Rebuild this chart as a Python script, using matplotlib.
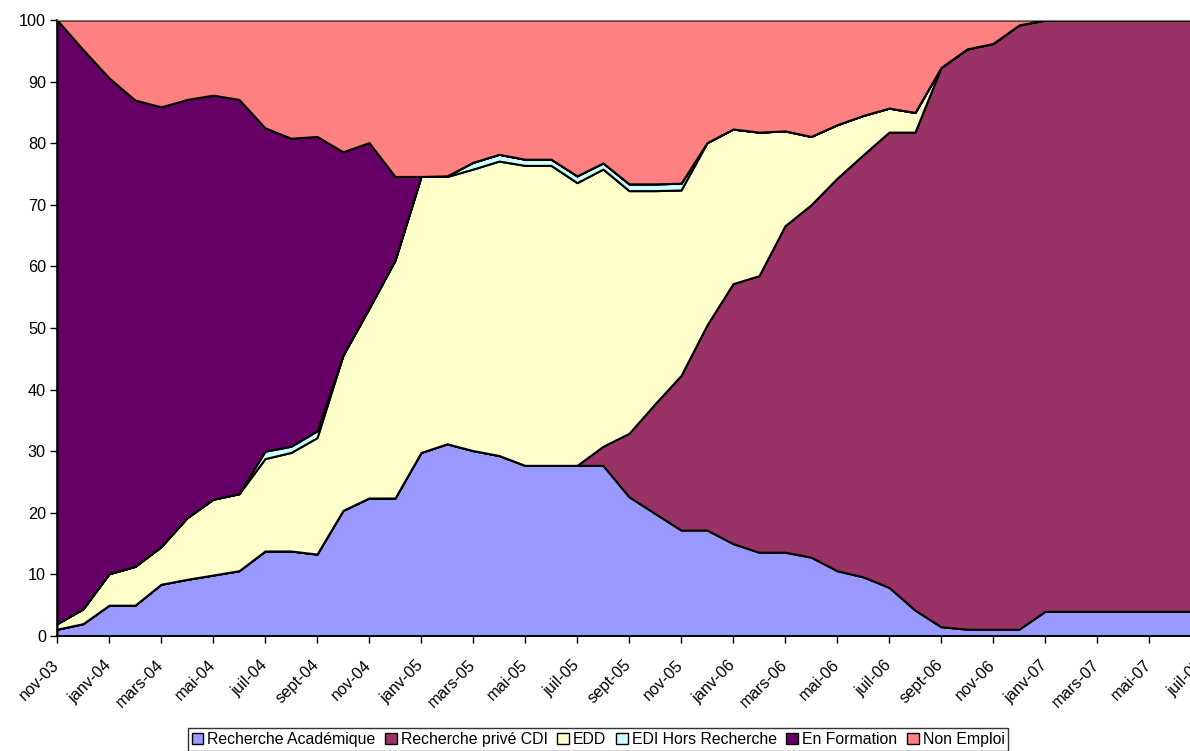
import numpy as np
import matplotlib.pyplot as plt

plt.rcParams['font.family'] = ['Liberation Sans', 'DejaVu Sans']

# months nov-03 .. juil-07 (one point per month)
mois = ['janv', 'févr', 'mars', 'avr', 'mai', 'juin',
        'juil', 'août', 'sept', 'oct', 'nov', 'déc']
dates = []
for k in range(45):
    m = (10 + k) % 12
    an = 3 + (10 + k) // 12
    dates.append('%s-%02d' % (mois[m], an))

academique = [1.1, 2.0, 5.0, 5.0, 8.4, 9.2, 9.9, 10.6, 13.8, 13.8,
              13.3, 20.4, 22.4, 22.4, 29.8, 31.2, 30.1, 29.3, 27.7, 27.7,
              27.7, 27.7, 22.6, 19.9, 17.2, 17.2, 15.0, 13.6, 13.6, 12.8,
              10.6, 9.6, 7.9, 4.2, 1.5, 1.1, 1.1, 1.1, 4.0, 4.0,
              4.0, 4.0, 4.0, 4.0, 4.0]
prive_cdi = [0, 0, 0, 0, 0, 0, 0, 0, 0, 0,
             0, 0, 0, 0, 0, 0, 0, 0, 0, 0,
             0, 3.1, 10.3, 17.8, 25.1, 33.3, 42.2, 44.9, 53.0, 57.2,
             63.7, 68.5, 73.9, 77.6, 90.8, 94.2, 95.1, 98.1, 96.0, 96.0,
             96.0, 96.0, 96.0, 96.0, 96.0]
edd = [0.9, 2.4, 5.1, 6.3, 6.1, 10.0, 12.3, 12.5, 15.0, 16.0,
       18.9, 25.2, 30.8, 38.6, 44.8, 43.4, 45.7, 47.8, 48.7, 48.7,
       45.9, 45.0, 39.4, 34.6, 30.1, 29.6, 25.1, 23.3, 15.4, 11.1,
       8.7, 6.4, 3.9, 3.2, 0, 0, 0, 0, 0, 0,
       0, 0, 0, 0, 0]
edi_hors = [0, 0, 0, 0, 0, 0, 0, 0, 1.2, 1.0,
            1.1, 0, 0, 0, 0, 0.1, 1.1, 1.1, 1.0, 1.0,
            1.1, 1.0, 1.1, 1.1, 1.1, 0, 0, 0, 0, 0,
            0, 0, 0, 0, 0, 0, 0, 0, 0, 0,
            0, 0, 0, 0, 0]
formation = [98.0, 90.8, 80.5, 75.7, 71.4, 67.9, 65.6, 64.0, 52.5, 50.0,
             47.8, 33.0, 26.9, 13.6, 0, 0, 0, 0, 0, 0,
             0, 0, 0, 0, 0, 0, 0, 0, 0, 0,
             0, 0, 0, 0, 0, 0, 0, 0, 0, 0,
             0, 0, 0, 0, 0]
non_emploi = [0, 4.8, 9.4, 13.0, 14.1, 12.9, 12.2, 12.9, 17.5, 19.2,
              18.9, 21.4, 19.9, 25.4, 25.4, 25.3, 23.1, 21.8, 22.6, 22.6,
              25.3, 23.2, 26.6, 26.6, 26.5, 19.9, 17.7, 18.2, 18.0, 18.9,
              17.0, 15.5, 14.3, 15.0, 7.7, 4.7, 3.8, 0.8, 0, 0,
              0, 0, 0, 0, 0]

noms = ['Recherche Académique', 'Recherche privé CDI', 'EDD',
        'EDI Hors Recherche', 'En Formation', 'Non Emploi']
couleurs = ['#9999FF', '#993366', '#FFFFCC', '#CCFFFF', '#660066', '#FF8080']

fig = plt.figure(figsize=(11.9, 7.51), dpi=100)
# plot area runs a little past the right edge, like the original export
ax = fig.add_axes([57 / 1190, 115 / 751, 1144 / 1190, 616 / 751])

x = np.arange(len(dates))
ax.stackplot(x, academique, prive_cdi, edd, edi_hors, formation, non_emploi,
             labels=noms, colors=couleurs, edgecolor='black', linewidth=1.5)

ax.set_xlim(0, len(dates) - 1)
ax.set_ylim(0, 100)
ax.set_yticks(range(0, 101, 10))
ax.set_xticks(x[::2])
ax.set_xticklabels(dates[::2], rotation=45, ha='right', va='center',
                   rotation_mode='anchor')
ax.tick_params(axis='both', labelsize=11.7, length=5, width=1, direction='out')
ax.tick_params(axis='x', pad=14)
ax.tick_params(axis='y', pad=3)

for s in ['left', 'bottom']:
    ax.spines[s].set_color('black')
    ax.spines[s].set_linewidth(1.2)
ax.spines['top'].set_color('#808080')
ax.spines['right'].set_visible(False)

leg = fig.legend(loc='upper center', bbox_to_anchor=(598 / 1190, 1 - 728 / 751),
                 ncol=6, fontsize=11.4, frameon=True, fancybox=False,
                 handlelength=0.75, handleheight=0.75, handletextpad=0.25,
                 columnspacing=0.6, borderpad=0.25, borderaxespad=0)
leg.get_frame().set_edgecolor('black')
leg.get_frame().set_linewidth(1)
for h in leg.legend_handles:
    h.set_linewidth(1)

fig.savefig('out.png', dpi=100)
